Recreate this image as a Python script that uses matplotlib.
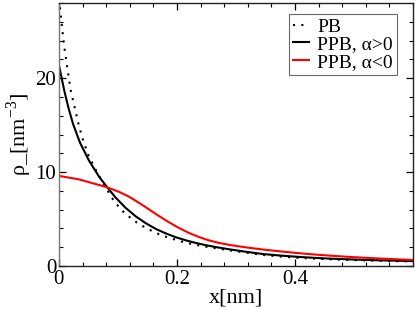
import matplotlib
matplotlib.use("Agg")
from matplotlib import pyplot as plt
from matplotlib.ticker import MultipleLocator

# PB (dotted)
x_pb = [0, 0.003, 0.006, 0.0096, 0.014, 0.02, 0.027, 0.034, 0.042, 0.05, 0.061,
        0.069, 0.078, 0.0904, 0.0989, 0.107, 0.116, 0.124, 0.136, 0.147, 0.158,
        0.169, 0.181, 0.192, 0.203, 0.215, 0.226, 0.237, 0.249, 0.26, 0.271,
        0.283, 0.294, 0.305, 0.316, 0.328, 0.346, 0.375, 0.403, 0.431, 0.459,
        0.488, 0.516, 0.544, 0.572, 0.6]
y_pb = [28.6, 26.8, 25.0, 23.1, 21.2, 18.7, 16.8, 14.9, 13.2, 11.8, 10.4,
        9.5, 8.5, 7.21, 6.5, 5.89, 5.43, 4.97, 4.47, 4.08, 3.73,
        3.41, 3.12, 2.91, 2.7, 2.48, 2.34, 2.2, 2.06, 1.95, 1.84,
        1.74, 1.63, 1.53, 1.44, 1.34, 1.18, 1.02, 0.89, 0.8, 0.72,
        0.66, 0.61, 0.56, 0.52, 0.49]

# PPB, alpha > 0
x_pos = [0, 0.009, 0.016, 0.024, 0.0356, 0.051, 0.068, 0.082, 0.096, 0.113, 0.13,
         0.147, 0.164, 0.181, 0.198, 0.215, 0.232, 0.249, 0.266, 0.29, 0.318,
         0.346, 0.375, 0.403, 0.431, 0.459, 0.488, 0.516, 0.544, 0.572, 0.6]
y_pos = [21.4, 18.7, 16.88, 15.12, 13.15, 11.22, 9.52, 8.37, 7.3, 6.2, 5.3,
         4.57, 3.96, 3.48, 3.07, 2.74, 2.46, 2.22, 2.02, 1.77, 1.51,
         1.28, 1.12, 0.99, 0.88, 0.79, 0.72, 0.66, 0.61, 0.57, 0.53]

# PPB, alpha < 0
x_neg = [0, 0.034, 0.068, 0.082, 0.102, 0.119, 0.136, 0.153, 0.169, 0.186, 0.203,
         0.22, 0.237, 0.254, 0.271, 0.29, 0.318, 0.346, 0.375, 0.403, 0.431,
         0.459, 0.488, 0.516, 0.544, 0.572, 0.6]
y_neg = [9.6, 9.23, 8.63, 8.38, 7.9, 7.38, 6.72, 6.02, 5.35, 4.68, 4.07,
         3.54, 3.1, 2.74, 2.47, 2.24, 1.98, 1.76, 1.56, 1.39, 1.24,
         1.11, 0.99, 0.89, 0.8, 0.72, 0.65]

plt.rcParams["font.family"] = ["Liberation Serif", "DejaVu Serif"]
plt.rcParams["mathtext.fontset"] = "custom"
plt.rcParams["mathtext.rm"] = "Liberation Serif"

fig = plt.figure(figsize=(4.15, 3.09), dpi=100)
ax = fig.add_axes([0.142, 0.139, 0.853, 0.851])

ax.plot(x_pb, y_pb, ls=(0, (1, 3)), lw=1.5, c="black", label="PB")
ax.plot(x_pos, y_pos, lw=1.5, c="black", label="PPB, α>0")
ax.plot(x_neg, y_neg, lw=1.5, c="red", label="PPB, α<0")

ax.set_xlim(0, 0.6)
ax.set_ylim(0, 28)
ax.xaxis.set_minor_locator(MultipleLocator(0.04))
ax.yaxis.set_major_locator(MultipleLocator(10))
ax.yaxis.set_minor_locator(MultipleLocator(2))
ax.set_xticks([0, 0.2, 0.4])
ax.set_xticklabels(["0", "0.2", "0.4"])
ax.tick_params(which="both", direction="in", top=True, right=True, labelsize=15)
ax.tick_params(which="major", length=5, width=0.9, pad=2)
ax.tick_params(which="minor", length=2.8, width=0.8)
ax.tick_params(axis="x", which="major", pad=2.5)
for s in ax.spines.values():
    s.set_linewidth(1.0)
    s.set_color("#222222")
ax.spines["left"].set_color("#777777")

ax.set_xlabel("x[nm]", fontsize=16, labelpad=0)
ax.set_ylabel(r"ρ_[nm$^{\mathregular{-3}}$]", fontsize=16, labelpad=1)

leg = ax.legend(loc="upper right", bbox_to_anchor=(0.955, 0.958), fontsize=14,
                frameon=True, fancybox=False, edgecolor="#444444",
                handlelength=0.8, handletextpad=0.45, borderpad=0.2,
                labelspacing=0.0, borderaxespad=0.0)
leg.get_frame().set_linewidth(0.8)

plt.savefig("out.png", dpi=100)
